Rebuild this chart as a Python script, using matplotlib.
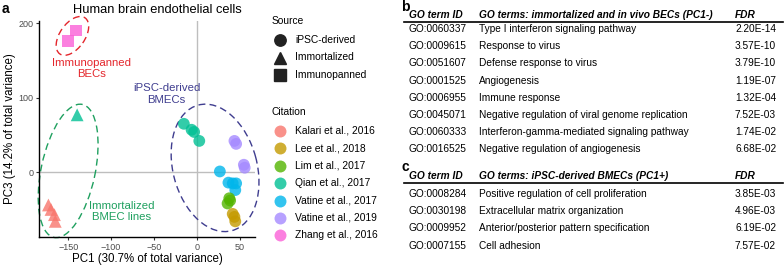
import matplotlib
matplotlib.use("Agg")
import matplotlib.pyplot as plt
from matplotlib.patches import Ellipse
from matplotlib.transforms import ScaledTranslation
from matplotlib.lines import Line2D

plt.rcParams['font.family'] = ['Liberation Sans', 'DejaVu Sans']

# ---------------- data ----------------
citations = ["Kalari et al., 2016", "Lee et al., 2018", "Lim et al., 2017",
             "Qian et al., 2017", "Vatine et al., 2017", "Vatine et al., 2019",
             "Zhang et al., 2016"]
citation_colors = ["#F8766D", "#C49A00", "#53B400", "#00C094", "#00B6EB",
                   "#A58AFF", "#FB61D7"]
sources = ["iPSC-derived", "Immortalized", "Immunopanned"]
source_markers = ["o", "^", "s"]

pc1 = [-173, -170, -166, -165, -139.5,
       -150, -141,
       -15, -6, -3, 3,
       27, 37, 42, 46, 45,
       44, 46, 55, 56,
       38, 39, 36,
       42, 44, 45]
pc3 = [-44, -50, -57, -66, 77,
       176, 190,
       65, 57, 54, 42,
       1, -14, -15, -15, -24,
       42, 38, 10, 6,
       -35, -38, -42,
       -56, -60, -66]
point_source = ["Immortalized"] * 5 + ["Immunopanned"] * 2 + ["iPSC-derived"] * 19
point_citation = (["Kalari et al., 2016"] * 4 + ["Qian et al., 2017"]
                  + ["Zhang et al., 2016"] * 2
                  + ["Qian et al., 2017"] * 4
                  + ["Vatine et al., 2017"] * 5
                  + ["Vatine et al., 2019"] * 4
                  + ["Lim et al., 2017"] * 3
                  + ["Lee et al., 2018"] * 3)

x_ticks = [-150, -100, -50, 0, 50]
y_ticks = [0, 100, 200]

table_b_ids = ["GO:0060337", "GO:0009615", "GO:0051607", "GO:0001525",
               "GO:0006955", "GO:0045071", "GO:0060333", "GO:0016525"]
table_b_terms = ["Type I interferon signaling pathway", "Response to virus",
                 "Defense response to virus", "Angiogenesis", "Immune response",
                 "Negative regulation of viral genome replication",
                 "Interferon-gamma-mediated signaling pathway",
                 "Negative regulation of angiogenesis"]
table_b_fdr = ["2.20E-14", "3.57E-10", "3.79E-10", "1.19E-07", "1.32E-04",
               "7.52E-03", "1.74E-02", "6.68E-02"]
table_c_ids = ["GO:0008284", "GO:0030198", "GO:0009952", "GO:0007155"]
table_c_terms = ["Positive regulation of cell proliferation",
                 "Extracellular matrix organization",
                 "Anterior/posterior pattern specification", "Cell adhesion"]
table_c_fdr = ["3.85E-03", "4.96E-03", "6.19E-02", "7.57E-02"]

# ---------------- figure ----------------
W, H = 784, 266
fig = plt.figure(figsize=(W / 100, H / 100), dpi=100)


def fx(px):
    return px / W


def fy(py):
    return 1 - py / H


ax_l, ax_r, ax_t, ax_b = 39, 255, 21, 237
ax = fig.add_axes([fx(ax_l), fy(ax_b), (ax_r - ax_l) / W, (ax_b - ax_t) / H])
ax.set_xlim(-184, 68)
ax.set_ylim(-87, 203)

ax.axhline(0, color="#BEBEBE", lw=1.0, zorder=0)
ax.axvline(0, color="#BEBEBE", lw=1.0, zorder=0)

cmap = dict(zip(citations, citation_colors))
mmap = dict(zip(sources, source_markers))
smap = {"o": 72, "^": 85, "s": 68}
for x, y, s, c in zip(pc1, pc3, point_source, point_citation):
    m = mmap[s]
    ax.scatter([x], [y], s=smap[m], marker=m, color=cmap[c], alpha=0.8,
               edgecolors="none", zorder=3)

for sp in ["top", "right"]:
    ax.spines[sp].set_visible(False)
for sp in ["left", "bottom"]:
    ax.spines[sp].set_linewidth(1.0)
ax.set_xticks(x_ticks)
ax.set_yticks(y_ticks)
ax.tick_params(length=2.5, width=0.8, labelsize=6.5, colors="#333333",
               labelcolor="#4D4D4D", pad=1.5)
ax.set_xlabel("PC1 (30.7% of total variance)", fontsize=8.3, labelpad=1)
ax.set_ylabel("PC3 (14.2% of total variance)", fontsize=8.3, labelpad=2)


# hand-drawn dashed ellipses (center in data units, size in pixels)
def add_ellipse(cx, cy, w_px, h_px, angle, color):
    tr = fig.dpi_scale_trans + ScaledTranslation(cx, cy, ax.transData)
    e = Ellipse((0, 0), w_px / 100, h_px / 100, angle=angle, fill=False,
                edgecolor=color, lw=1.0, linestyle=(0, (5, 3)), transform=tr,
                clip_on=False, zorder=2)
    ax.add_patch(e)


red, green, navy = "#E4262C", "#1FA05F", "#3F3D8F"
add_ellipse(-145, 183, 44, 25, 55, red)
add_ellipse(-150, 1.7, 136, 54, 78, green)
add_ellipse(21.4, 5.8, 130, 84, 105, navy)

ax.text(-122.5, 139, "Immunopanned\nBECs", color=red, fontsize=8.2,
        ha="center", va="center", linespacing=1.2)
ax.text(-35, 105, "iPSC-derived\nBMECs", color=navy, fontsize=8.2,
        ha="center", va="center", linespacing=1.2)
ax.text(-87.7, -53, "Immortalized\nBMEC lines", color=green, fontsize=8.2,
        ha="center", va="center", linespacing=1.2)

fig.text(fx(157), fy(10), "Human brain endothelial cells", fontsize=9.3,
         ha="center", va="center")
fig.text(fx(2), fy(9), "a", fontsize=10, fontweight="bold", ha="left", va="center")

# ---------------- legend (manual) ----------------
leg_fs = 7.4
fig.text(fx(272), fy(21), "Source", fontsize=leg_fs, va="center", ha="left")
for i, (lab, m) in enumerate(zip(sources, source_markers)):
    yy = 40 + i * 17.5
    fig.add_artist(Line2D([fx(280)], [fy(yy)], marker=m, color="#222222",
                          markersize=8.2, linestyle="none",
                          transform=fig.transFigure))
    fig.text(fx(295), fy(yy), lab, fontsize=leg_fs, va="center", ha="left")

fig.text(fx(272), fy(112), "Citation", fontsize=leg_fs, va="center", ha="left")
for i, (lab, col) in enumerate(zip(citations, citation_colors)):
    yy = 131 + i * 17.4
    fig.add_artist(Line2D([fx(280)], [fy(yy)], marker="o", color=col, alpha=0.8,
                          markersize=8.6, linestyle="none", markeredgewidth=0,
                          transform=fig.transFigure))
    fig.text(fx(295), fy(yy), lab, fontsize=leg_fs, va="center", ha="left")

# ---------------- tables ----------------
tab_fs = 7.3
col_id, col_term, col_fdr = 409, 479, 735


def draw_table(label, label_y, header_y, head_term, ids, terms, fdrs, row0, step):
    fig.text(fx(401), fy(label_y), label, fontsize=10, fontweight="bold",
             ha="left", va="center")
    for xx, t in [(col_id, "GO term ID"), (col_term, head_term), (col_fdr, "FDR")]:
        fig.text(fx(xx), fy(header_y), t, fontsize=tab_fs, fontweight="bold",
                 style="italic", ha="left", va="center")
    fig.add_artist(Line2D([fx(404), fx(783)], [fy(header_y + 7)] * 2,
                          color="black", lw=1.2, transform=fig.transFigure))
    for i, (a, b, c) in enumerate(zip(ids, terms, fdrs)):
        yy = row0 + i * step
        fig.text(fx(col_id), fy(yy), a, fontsize=tab_fs, ha="left", va="center")
        fig.text(fx(col_term), fy(yy), b, fontsize=tab_fs, ha="left", va="center")
        fig.text(fx(col_fdr), fy(yy), c, fontsize=tab_fs, ha="left", va="center")


draw_table("b", 7, 15, "GO terms: immortalized and in vivo BECs (PC1-)",
           table_b_ids, table_b_terms, table_b_fdr, 29, 17.2)
draw_table("c", 167, 176, "GO terms: iPSC-derived BMECs (PC1+)",
           table_c_ids, table_c_terms, table_c_fdr, 194, 17.2)

fig.savefig("out.png", dpi=100)
